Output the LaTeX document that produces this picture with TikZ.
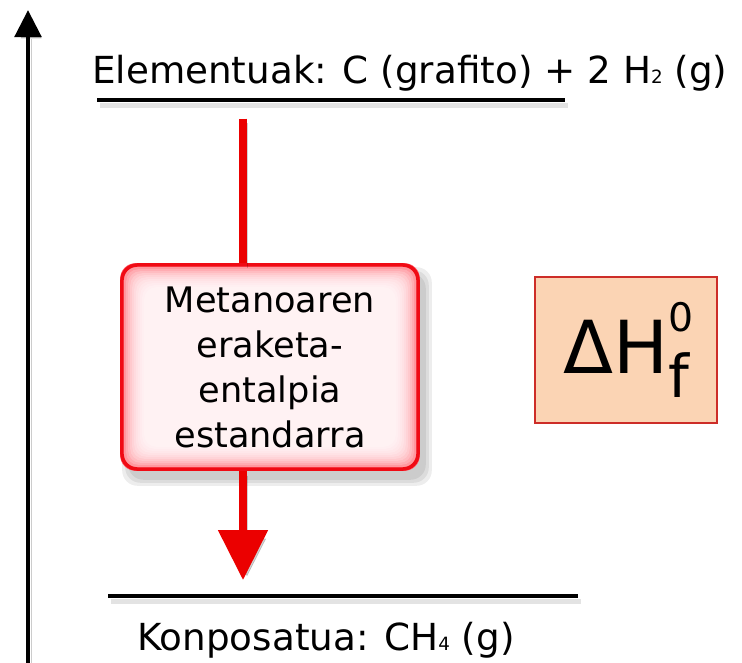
\documentclass[tikz,border=0pt]{standalone}
\usepackage{fontspec}
\setmainfont{DejaVu Sans}
\usetikzlibrary{arrows.meta, shadows, backgrounds}
\definecolor{arrowred}{RGB}{235,0,0}
\definecolor{boxedge}{RGB}{240,10,20}
\definecolor{boxpink}{RGB}{255,95,105}
\definecolor{peach}{RGB}{251,212,180}
\definecolor{peachedge}{RGB}{205,45,40}

\begin{document}
\begin{tikzpicture}[
        x=0.025cm, y=-0.025cm,
        energyline/.style={rectangle, fill=black, inner sep=0pt, minimum height=0.12cm, drop shadow={shadow xshift=0.08cm, shadow yshift=-0.14cm, opacity=0.22}},
        levtext/.style={anchor=base west, inner sep=0pt, font=\fontsize{26.5}{30}\selectfont},
        stepbox/.style={rectangle, rounded corners=0.38cm, draw=boxedge, line width=2.5pt, minimum width=7.4cm, minimum height=5.1cm, align=center, font=\fontsize{25}{32}\selectfont},
        glow/.style={white, opacity=0.2, rounded corners=0.3cm},
        symbox/.style={rectangle, draw=peachedge, line width=0.8pt, fill=peach, minimum width=4.55cm, minimum height=3.65cm},
        redline/.style={arrowred, line width=0.2cm, preaction={draw=black, opacity=0.18, transform canvas={shift={(0.1cm,-0.12cm)}}}},
        axis/.style={line width=0.12cm, -{Triangle[width=0.66cm,length=0.68cm]}, preaction={draw=black, opacity=0.2, transform canvas={shift={(0.08cm,-0.08cm)}}}}
    ]
        \useasboundingbox (0,0) rectangle (742,663);

        % Energy axis
        \coordinate (axbot) at (28,666);
        \coordinate (axtop) at (28,10);
        \draw[axis] (axbot) -- (axtop);

        % Levels
        \node[energyline, minimum width=11.7cm] (top) at (331,100) {};
        \node[energyline, minimum width=11.75cm] (bot) at (343,596) {};
        \node[levtext] (toptext) at (92,84) {Elementuak: C (grafito) + 2 H{\fontsize{13}{13}\selectfont 2} (g)};
        \node[levtext] (bottext) at (137,650) {Konposatua: CH{\fontsize{13}{13}\selectfont 4} (g)};

        % Formation step
        \coordinate (ax) at (243,0);
        \node[stepbox] (box) at (270,367) {Metanoaren\\eraketa-\\entalpia\\estandarra};
        \begin{scope}[on background layer]
            \foreach \s in {0,3,6}
                \fill[black, opacity=0.07, rounded corners=0.38cm] ([shift={(8-\s,10-\s)}]box.north west) rectangle ([shift={(6+\s,9+\s)}]box.south east);
            \fill[boxpink, rounded corners=0.38cm] (box.north west) rectangle (box.south east);
            \foreach \i in {1,...,12}
                \fill[glow] ([shift={(\i*2,\i*2)}]box.north west) rectangle ([shift={(-\i*2,-\i*2)}]box.south east);
        \end{scope}
        \draw[redline, shorten <=0.4cm] (top.south -| ax) -- (box.north -| ax);
        \draw[redline, shorten >=0.33cm, -{Triangle[width=1.2cm,length=1.25cm]}] (box.south -| ax) -- (bot.north -| ax);

        % Symbol
        \node[symbox] (sym) at (626,350) {{\fontsize{52}{52}\selectfont ΔH}\makebox[0pt][l]{\raisebox{1.05cm}{\fontsize{28}{28}\selectfont 0}}\raisebox{-0.6cm}{\fontsize{42}{42}\selectfont f}};
    \end{tikzpicture}
\end{document}
